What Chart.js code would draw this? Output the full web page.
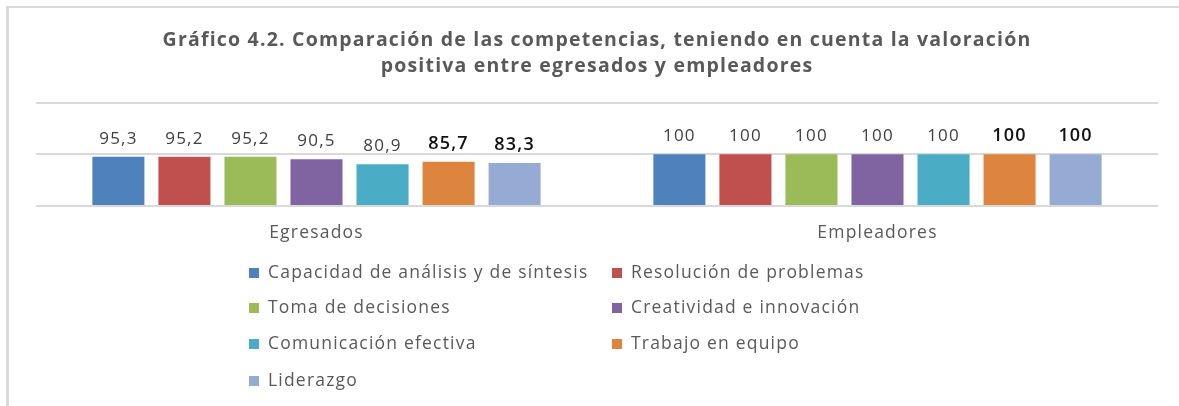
<!DOCTYPE html>
<html lang="es">
<head>
<meta charset="utf-8">
<title>Gráfico 4.2</title>
<script src="https://cdn.jsdelivr.net/npm/chart.js@4.4.1/dist/chart.umd.min.js"></script>
<style>
    html, body { margin: 0; padding: 0; background: #fff; }
    #wrap { position: relative; width: 1179px; height: 406px; overflow: hidden; }
    #frame {
        position: absolute; left: 6px; top: 6px; right: -10px; bottom: -10px;
        border-top: 2px solid #d9d9d9; border-left: 3px solid #d9d9d9;
        pointer-events: none;
    }
    canvas { position: absolute; left: 0; top: 0; }
</style>
</head>
<body>
<div id="wrap">
    <canvas id="chart" width="1179" height="406"></canvas>
    <div id="frame"></div>
</div>
<script>
// Data
const groups = ['Egresados', 'Empleadores'];
const competencias = [
    'Capacidad de análisis y de síntesis',
    'Resolución de problemas',
    'Toma de decisiones',
    'Creatividad e innovación',
    'Comunicación efectiva',
    'Trabajo en equipo',
    'Liderazgo'
];
const capacidad = [95.3, 100];
const resolucion = [95.2, 100];
const decisiones = [95.2, 100];
const creatividad = [90.5, 100];
const comunicacion = [80.9, 100];
const trabajo = [85.7, 100];
const liderazgo = [83.3, 100];
const yTicks = [0, 100, 200];

const seriesValues = [capacidad, resolucion, decisiones, creatividad, comunicacion, trabajo, liderazgo];
const colors = ['#4f81bd', '#c0504d', '#9bbb59', '#8064a2', '#4bacc6', '#dd843f', '#95abd3'];
// the last two series have darker, bolder value labels in the original
const boldLabels = [false, false, false, false, false, true, true];

const FONT = "'Open Sans', 'Noto Sans', sans-serif";

// The original text is stretched wide, so space the letters out a bit
const spacing = {
    id: 'spacing',
    beforeDraw(chart) {
        chart.ctx.letterSpacing = '1.2px';
    }
};

// Value labels above each bar
const valueLabels = {
    id: 'valueLabels',
    afterDatasetsDraw(chart) {
        const ctx = chart.ctx;
        ctx.save();
        ctx.textAlign = 'center';
        ctx.textBaseline = 'alphabetic';
        chart.data.datasets.forEach((ds, i) => {
            const meta = chart.getDatasetMeta(i);
            meta.data.forEach((bar, j) => {
                const v = ds.data[j];
                const txt = Number.isInteger(v) ? String(v) : v.toFixed(1).replace('.', ',');
                if (boldLabels[i]) {
                    ctx.font = `600 18px ${FONT}`;
                    ctx.fillStyle = '#111';
                } else {
                    ctx.font = `17px ${FONT}`;
                    ctx.fillStyle = '#404040';
                }
                ctx.fillText(txt, bar.x, bar.y - 13);
            });
        });
        ctx.restore();
    }
};

// Two-column legend like the spreadsheet one
const gridLegend = {
    id: 'gridLegend',
    afterDraw(chart) {
        const ctx = chart.ctx;
        const colX = [249, 612];
        const rowY = [273, 308, 344, 381];
        ctx.save();
        ctx.font = `17.5px ${FONT}`;
        ctx.textBaseline = 'middle';
        ctx.textAlign = 'left';
        chart.data.datasets.forEach((ds, i) => {
            const x = colX[i % 2];
            const y = rowY[Math.floor(i / 2)];
            ctx.fillStyle = ds.backgroundColor;
            ctx.fillRect(x, y - 5, 10, 10);
            ctx.fillStyle = '#595959';
            ctx.fillText(ds.label, x + 19, y);
        });
        ctx.restore();
    }
};

const ctx = document.getElementById('chart').getContext('2d');
new Chart(ctx, {
    type: 'bar',
    data: {
        labels: groups,
        datasets: competencias.map((name, i) => ({
            label: name,
            data: seriesValues[i],
            backgroundColor: colors[i],
            borderWidth: 0,
            categoryPercentage: 0.824,
            barPercentage: 0.788
        }))
    },
    options: {
        responsive: false,
        animation: false,
        layout: {
            padding: { left: 36, right: 21, top: 0, bottom: 153 }
        },
        scales: {
            x: {
                grid: { display: false },
                border: { display: false },
                ticks: {
                    color: '#595959',
                    font: { family: FONT, size: 17.5 },
                    padding: 9
                }
            },
            y: {
                min: 0,
                max: 200,
                afterBuildTicks(axis) {
                    axis.ticks = yTicks.map(v => ({ value: v }));
                },
                ticks: { display: false },
                grid: { color: '#d9d9d9', lineWidth: 2, drawTicks: false },
                border: { display: false }
            }
        },
        plugins: {
            legend: { display: false },
            tooltip: { enabled: false },
            title: {
                display: true,
                text: [
                    'Gráfico 4.2. Comparación de las competencias, teniendo en cuenta la valoración',
                    'positiva entre egresados y empleadores'
                ],
                color: '#595959',
                font: { family: FONT, size: 19.5, weight: 'bold', lineHeight: 1.3 },
                padding: { top: 28, bottom: 24 }
            }
        }
    },
    plugins: [spacing, valueLabels, gridLegend]
});
</script>
</body>
</html>
